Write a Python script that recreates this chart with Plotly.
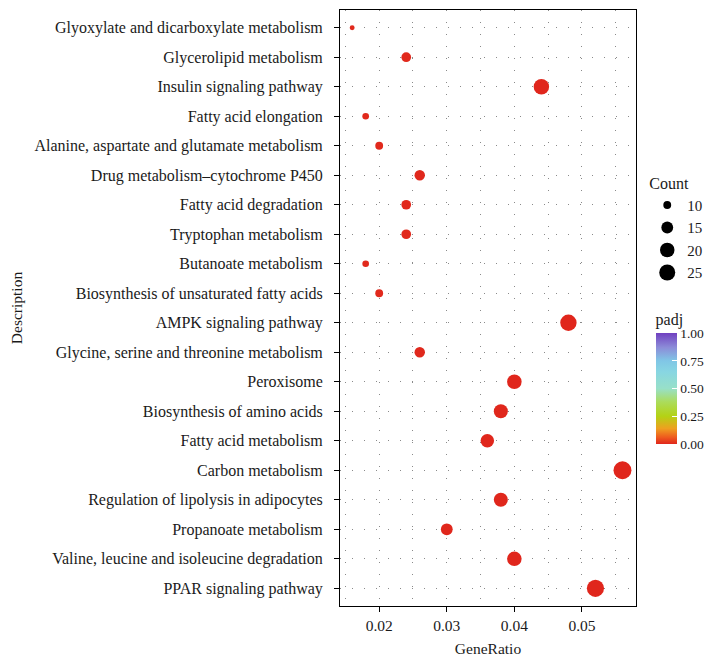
import numpy as np
import plotly.graph_objects as go

# ---- data (top to bottom as displayed) ----
descriptions = [
    "Glyoxylate and dicarboxylate metabolism",
    "Glycerolipid metabolism",
    "Insulin signaling pathway",
    "Fatty acid elongation",
    "Alanine, aspartate and glutamate metabolism",
    "Drug metabolism\u2013cytochrome P450",
    "Fatty acid degradation",
    "Tryptophan metabolism",
    "Butanoate metabolism",
    "Biosynthesis of unsaturated fatty acids",
    "AMPK signaling pathway",
    "Glycine, serine and threonine metabolism",
    "Peroxisome",
    "Biosynthesis of amino acids",
    "Fatty acid metabolism",
    "Carbon metabolism",
    "Regulation of lipolysis in adipocytes",
    "Propanoate metabolism",
    "Valine, leucine and isoleucine degradation",
    "PPAR signaling pathway",
]
gene_ratio = [0.016, 0.024, 0.044, 0.018, 0.020, 0.026, 0.024, 0.024, 0.018, 0.020,
              0.048, 0.026, 0.040, 0.038, 0.036, 0.056, 0.038, 0.030, 0.040, 0.052]
counts = [8, 12, 22, 9, 10, 13, 12, 12, 9, 10,
          24, 13, 20, 19, 18, 28, 19, 15, 20, 26]
padj = [0.004, 0.003, 0.0005, 0.004, 0.003, 0.002, 0.003, 0.003, 0.004, 0.003,
        0.0002, 0.002, 0.0005, 0.0006, 0.0008, 0.00001, 0.0006, 0.001, 0.0004, 0.00001]
size_breaks = [10, 15, 20, 25]
x_ticks = [0.02, 0.03, 0.04, 0.05]
padj_ticks = [0.0, 0.25, 0.5, 0.75, 1.0]

# ---- size scale (area-linear, like ggplot scale_size range 1..6) ----
cmin, cmax = min(counts), max(counts)
def size_px(c):
    s = np.sqrt(1 + 35 * (c - cmin) / (cmax - cmin))
    return 2.6 * (s + 0.9)

colorscale = [
    [0.00, "#E0261C"], [0.06, "#EE5A1E"], [0.14, "#EEA020"], [0.25, "#B4D214"],
    [0.38, "#ABDC5C"], [0.50, "#98E0C8"], [0.65, "#88D6E2"], [0.75, "#80C6E6"],
    [0.87, "#8C8CD8"], [1.00, "#7040C0"],
]

FONT = "Liberation Serif"
TXT = "#1a1a1a"

fig = go.Figure()
fig.add_trace(go.Scatter(
    x=gene_ratio, y=descriptions, mode="markers", showlegend=False,
    marker=dict(
        size=[size_px(c) for c in counts], color=padj, cmin=0, cmax=1,
        colorscale=colorscale, opacity=1, line=dict(width=0),
        showscale=True,
        colorbar=dict(
            title=dict(text="padj", side="top", font=dict(family=FONT, size=16, color=TXT)),
            lenmode="pixels", len=134, thickness=21,
            x=1.066, xanchor="left", xpad=0,
            y=0.2715, yanchor="bottom", ypad=0,
            tickvals=padj_ticks, ticktext=[f"{v:.2f}" for v in padj_ticks],
            ticks="inside", ticklen=5, tickcolor="white", tickwidth=1,
            tickfont=dict(family=FONT, size=13.5, color=TXT),
            outlinewidth=0,
        ),
    ),
))
for b in size_breaks:
    fig.add_trace(go.Scatter(
        x=[None], y=[None], mode="markers", name=str(b),
        marker=dict(size=size_px(b), color="black"),
    ))

cat_order = descriptions[::-1]
fig.update_layout(
    width=712, height=658,
    margin=dict(l=332, r=84, t=2, b=60),
    paper_bgcolor="white", plot_bgcolor="white",
    font=dict(family=FONT, size=15, color=TXT),
    legend=dict(
        title=dict(text="Count", font=dict(family=FONT, size=16, color=TXT)),
        x=1.038, xanchor="left", y=0.735, yanchor="top",
        itemsizing="trace", tracegroupgap=0,
        font=dict(family=FONT, size=15, color=TXT),
        bgcolor="rgba(0,0,0,0)",
    ),
    xaxis=dict(
        range=[0.0142, 0.058], tickvals=x_ticks, ticktext=[f"{v:.2f}" for v in x_ticks],
        ticks="outside", ticklen=5, tickcolor="black",
        showline=True, linecolor="black", linewidth=1, mirror=True,
        showgrid=True, gridcolor="#8a8a8a", gridwidth=1, griddash="1px,11px",
        minor=dict(tickvals=[0.015, 0.025, 0.035, 0.045, 0.055], showgrid=True,
                   gridcolor="#8a8a8a", gridwidth=1, griddash="1px,11px", ticks=""),
        zeroline=False, automargin=False,
        title=dict(text="GeneRatio", font=dict(family=FONT, size=15.5, color=TXT), standoff=10),
        tickfont=dict(family=FONT, size=15.5, color=TXT),
    ),
    yaxis=dict(
        categoryorder="array", categoryarray=cat_order,
        range=[-0.6, len(cat_order) - 0.4],
        ticks="outside", ticklen=5, tickcolor="black",
        ticklabelstandoff=8,
        showline=True, linecolor="black", linewidth=1, mirror=True,
        showgrid=True, gridcolor="#8a8a8a", gridwidth=1, griddash="1px,11px",
        zeroline=False, automargin=False,
        title=dict(text="Description", font=dict(family=FONT, size=15.5, color=TXT), standoff=13),
        tickfont=dict(family=FONT, size=16, color=TXT),
    ),
)

fig.write_html("out.html")
